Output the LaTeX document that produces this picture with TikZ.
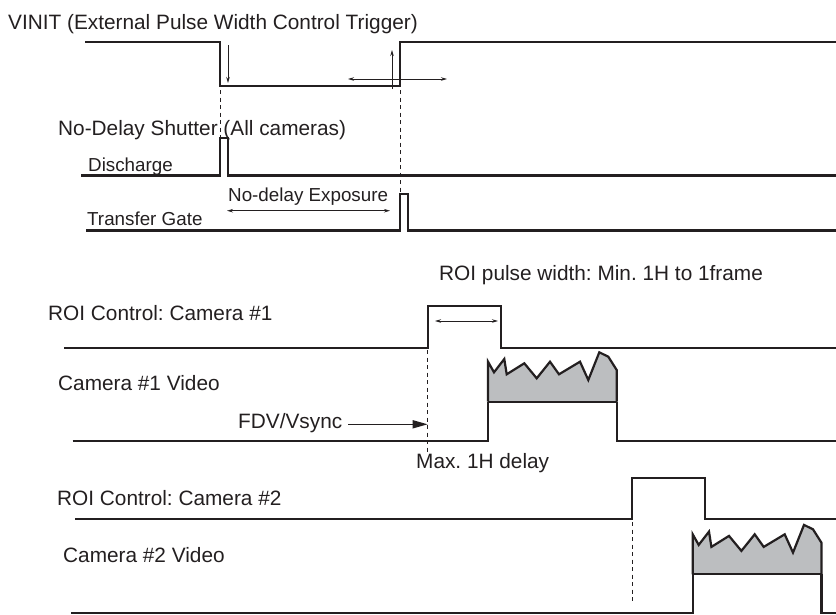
\documentclass[tikz,border=0pt]{standalone}
\usepackage{fontspec}
\setmainfont{Liberation Sans}
\usetikzlibrary{arrows.meta}
\definecolor{ink}{HTML}{231F20}
\definecolor{vidgray}{HTML}{BCBEC0}
\frenchspacing
\begin{document}
\begin{tikzpicture}[x=1pt,y=-1pt,
  sig/.style={draw=ink,line width=2.2pt,line join=miter},
  thinarrow/.style={draw=ink,line width=0.9pt,{Stealth[length=6pt,width=3.5pt]}-{Stealth[length=6pt,width=3.5pt]}},
  onearrow/.style={draw=ink,line width=0.9pt,-{Stealth[length=6pt,width=3.5pt]}},
  bigarrow/.style={draw=ink,line width=1.6pt,-{Triangle[length=15pt,width=8pt]}},
  guide/.style={draw=ink,line width=0.8pt,dash pattern=on 4pt off 3.5pt},
  biglabel/.style={anchor=base west,inner sep=0pt,text=ink,font=\fontsize{20.8}{24}\selectfont},
  smalllabel/.style={anchor=base west,inner sep=0pt,text=ink,font=\fontsize{18.8}{22}\selectfont}]
\useasboundingbox (0,0) rectangle (836,614);

% labels
\node[biglabel] (title) at (8,29) {VINIT (External Pulse Width Control Trigger)};
\node[biglabel] (shutter) at (58,135) {No-Delay Shutter (All cameras)};
\node[smalllabel] (discharge) at (88,171.5) {Discharge};
\node[smalllabel] (exposure) at (228,201.5) {No-delay Exposure};
\node[smalllabel] (transfer) at (87,225) {Transfer Gate};
\node[biglabel] (roiwidth) at (439,280.5) {ROI pulse width: Min. 1H to 1frame};
\node[biglabel] (roi1) at (48,320) {ROI Control: Camera \#1};
\node[biglabel] (cam1) at (58,390.5) {Camera \#1 Video};
\node[biglabel] (fdv) at (238,428) {FDV/Vsync};
\node[biglabel] (maxd) at (416,468) {Max. 1H delay};
\node[biglabel] (roi2) at (57,505.5) {ROI Control: Camera \#2};
\node[biglabel] (cam2) at (63,562) {Camera \#2 Video};

% video blocks (gray, jagged top)
\foreach \sx/\sy in {488/401.7, 692.7/574.3}{
  \begin{scope}[shift={(\sx,\sy)}]
    \fill[vidgray] (0,0) -- (0,-40) -- (6,-29.4) -- (16.3,-42.7) -- (18.7,-27.4) -- (36.3,-38.4) -- (48.7,-23.4) -- (62,-40) -- (71,-27.4) -- (92,-40) -- (100.3,-21.7) -- (111.3,-49.4) -- (120.3,-45) -- (128.7,-31.7) -- (128.7,0) -- cycle;
    \draw[sig] (0,0) -- (0,-40) -- (6,-29.4) -- (16.3,-42.7) -- (18.7,-27.4) -- (36.3,-38.4) -- (48.7,-23.4) -- (62,-40) -- (71,-27.4) -- (92,-40) -- (100.3,-21.7) -- (111.3,-49.4) -- (120.3,-45) -- (128.7,-31.7) -- (128.7,0);
    \draw[sig] (0,0) -- (128.7,0);
  \end{scope}
}

% guides
\draw[guide] (220,90) -- (220,138.3);
\draw[guide] (400,90) -- (400,194);
\draw[guide] (427.7,350) -- (427.7,452);
\draw[guide] (632.3,522) -- (632.3,603.3);

% signals
\draw[sig] (85,41.7) -- (220,41.7) -- (220,86) -- (400,86) -- (400,41.7) -- (836,41.7);
\draw[sig] (81,175.5) -- (220,175.5) -- (220,138.3) -- (228,138.3) -- (228,175.5) -- (836,175.5);
\draw[sig] (86,230.5) -- (400,230.5) -- (400,194) -- (408,194) -- (408,230.5) -- (836,230.5);
\draw[sig] (64,347.7) -- (427.7,347.7) -- (427.7,305.7) -- (501,305.7) -- (501,347.7) -- (836,347.7);
\draw[sig] (72.7,441) -- (488,441) -- (488,401.7);
\draw[sig] (617.3,401.7) -- (617.3,441) -- (836,441);
\draw[sig] (75,519.3) -- (632.3,519.3) -- (632.3,477.7) -- (705,477.7) -- (705,519.3) -- (836,519.3);
\draw[sig] (71,612.7) -- (692.7,612.7) -- (692.7,574.3);
\draw[sig] (821.4,574.3) -- (821.4,612.7) -- (836,612.7);

% arrows
\coordinate (downA) at (228,45);
\coordinate (downB) at (228,83);
\coordinate (upA) at (392,89);
\coordinate (upB) at (392,50);
\coordinate (hA) at (348,79);
\coordinate (hB) at (447,79);
\coordinate (expA) at (227,210.7);
\coordinate (expB) at (390,210.7);
\coordinate (roiA) at (435,321);
\coordinate (roiB) at (498,321);
\coordinate (fdvA) at (348,424.3);
\coordinate (fdvB) at (427.7,424.3);
\draw[onearrow] (downA) -- (downB);
\draw[onearrow] (upA) -- (upB);
\draw[thinarrow] (hA) -- (hB);
\draw[thinarrow] (expA) -- (expB);
\draw[thinarrow] (roiA) -- (roiB);
\draw[bigarrow] (fdvA) -- (fdvB);
\end{tikzpicture}
\end{document}
